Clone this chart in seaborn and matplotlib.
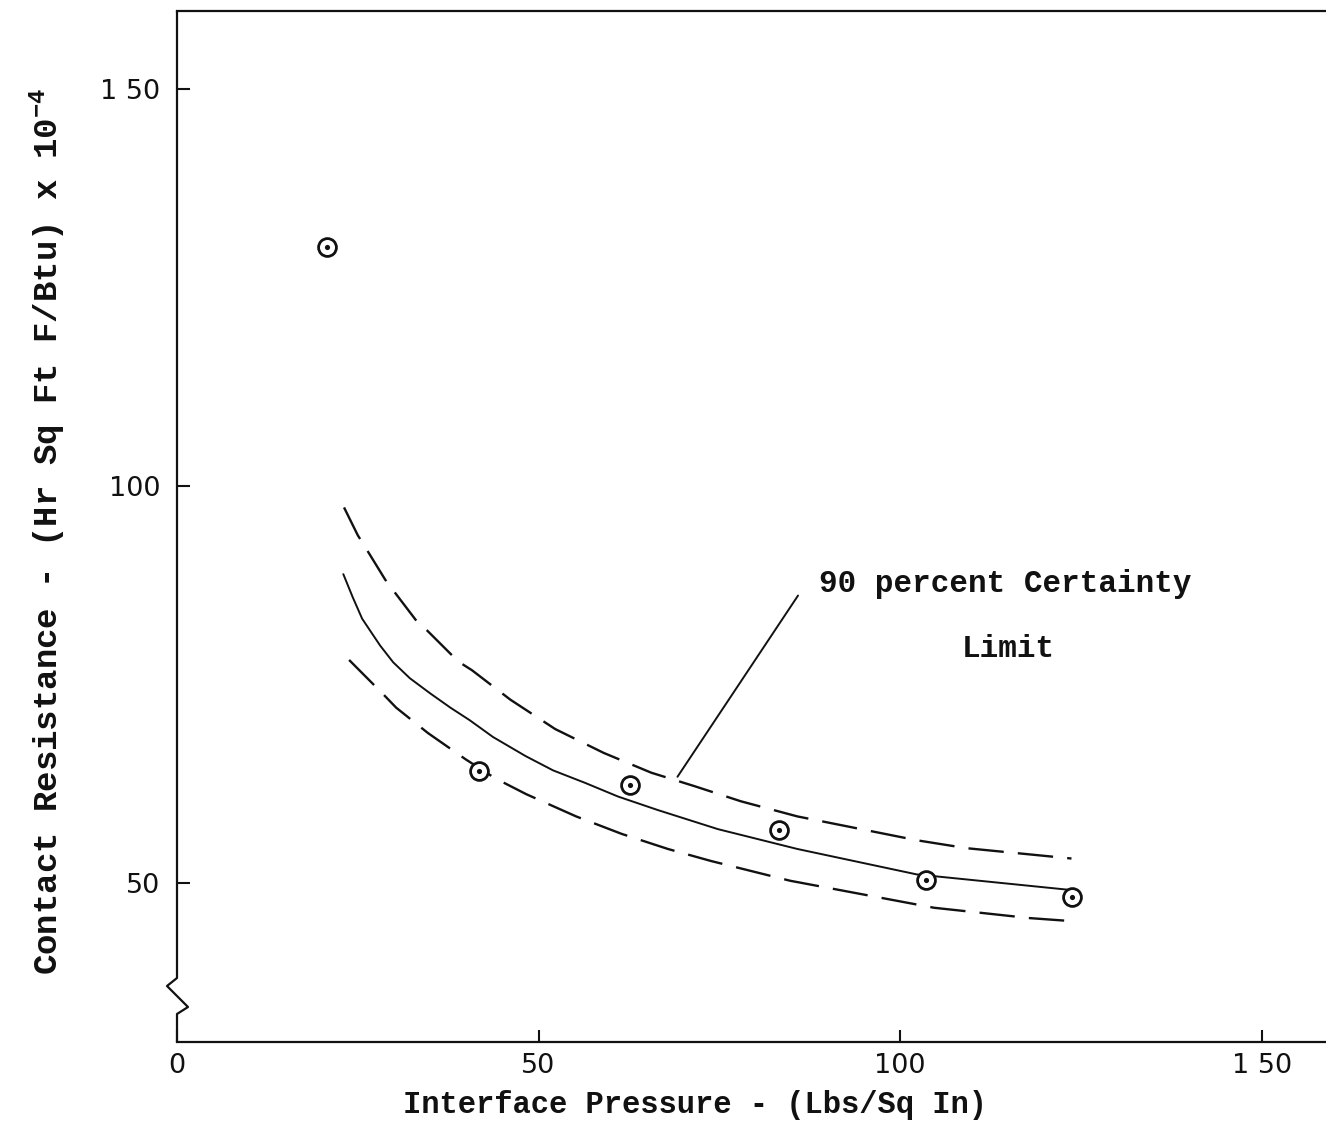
import matplotlib
matplotlib.use("Agg")
import matplotlib.pyplot as plt
import seaborn as sns
import pandas as pd

# ---- data ----
pressure_pts = [20.8, 41.7, 62.7, 83.2, 103.6, 123.8]
resist_pts = [130.1, 64.1, 62.3, 56.7, 50.4, 48.2]

fit_x = [23.0, 24.3, 25.6, 26.7, 28.1, 29.9, 32.2, 35.0, 37.8, 40.5, 43.7, 48.2,
         52.0, 56.5, 61.0, 66.5, 74.8, 85.8, 102.3, 124.0]
fit_y = [88.9, 86.0, 83.3, 81.8, 79.9, 77.8, 75.8, 73.9, 72.1, 70.5, 68.4, 66.0,
         64.2, 62.6, 60.9, 59.2, 56.8, 54.3, 51.1, 49.1]

upper_x = [23.1, 25.0, 26.3, 28.8, 29.7, 33.3, 34.6, 38.9, 40.8, 46.1, 52.3, 59.0,
           65.6, 71.6, 78.0, 85.8, 102.3, 109.2, 123.7]
upper_y = [97.3, 93.8, 91.9, 88.2, 87.1, 82.8, 81.8, 77.9, 76.8, 73.1, 69.4, 66.4,
           63.9, 62.2, 60.3, 58.4, 55.4, 54.4, 53.1]

lower_x = [23.8, 28.5, 30.3, 34.7, 39.9, 44.0, 48.3, 55.2, 61.5, 67.9, 73.8, 84.8,
           104.7, 117.9, 124.0]
lower_y = [78.1, 73.8, 72.1, 68.9, 65.6, 63.2, 61.2, 58.4, 56.2, 54.3, 52.8, 50.3,
           46.9, 45.6, 45.2]

x_ticks = [0, 50, 100, 150]
y_ticks = [50, 100, 150]
x_ticklabels = ["0", "50", "100", "1 50"]
y_ticklabels = ["50", "100", "1 50"]

xlabel = "Interface Pressure - (Lbs/Sq In)"
ylabel = "Contact Resistance - (Hr Sq Ft F/Btu) x 10$^{-4}$"
note1 = "90 percent Certainty"
note2 = "Limit"

# ---- style ----
sns.set_style("ticks")
plt.rcParams["font.family"] = ["Liberation Mono", "DejaVu Sans"]
plt.rcParams["mathtext.fontset"] = "custom"
plt.rcParams["mathtext.rm"] = "Liberation Mono:bold"
plt.rcParams["mathtext.it"] = "Liberation Mono:bold"
plt.rcParams["mathtext.bf"] = "Liberation Mono:bold"

fig = plt.figure(figsize=(13.26, 11.30), dpi=100)
ax = fig.add_axes([177 / 1326, (1130 - 1042) / 1130, 1 - 177 / 1326, (1042 - 11) / 1130])

ink = "#111111"

df_fit = pd.DataFrame({"x": fit_x, "y": fit_y})
df_up = pd.DataFrame({"x": upper_x, "y": upper_y})
df_lo = pd.DataFrame({"x": lower_x, "y": lower_y})
df_pts = pd.DataFrame({"x": pressure_pts, "y": resist_pts})

sns.lineplot(data=df_fit, x="x", y="y", ax=ax, color=ink, lw=1.4, sort=True, estimator=None)
sns.lineplot(data=df_up, x="x", y="y", ax=ax, color=ink, lw=1.7, sort=True, estimator=None,
             linestyle=(0, (15, 6)))
sns.lineplot(data=df_lo, x="x", y="y", ax=ax, color=ink, lw=1.7, sort=True, estimator=None,
             linestyle=(0, (15, 6)))
sns.scatterplot(data=df_pts, x="x", y="y", ax=ax, s=165, facecolor="white",
                edgecolor=ink, linewidth=2.0, zorder=5)
sns.scatterplot(data=df_pts, x="x", y="y", ax=ax, s=14, color=ink, linewidth=0, zorder=6)

ax.set_xlim(0, 158.9)
ax.set_ylim(30.0, 159.8)

ax.set_xticks(x_ticks)
ax.set_xticklabels(x_ticklabels)
ax.set_yticks(y_ticks)
ax.set_yticklabels(y_ticklabels)
ax.tick_params(direction="in", length=9, width=1.5, color=ink, labelsize=19.5,
               labelcolor=ink)
ax.tick_params(axis="y", pad=12)
ax.tick_params(axis="x", pad=8)
for lab in ax.get_xticklabels() + ax.get_yticklabels():
    lab.set_family("DejaVu Sans")

ax.spines["right"].set_visible(False)
ax.spines["left"].set_visible(False)
for s in ("top", "bottom"):
    ax.spines[s].set_linewidth(1.6)
    ax.spines[s].set_color(ink)

# left spine with axis-break zigzag
H = 1042 - 11
W = 1326 - 177
def ay(py):
    return (1042 - py) / H
brk_x = [0, 0, -10 / W, 11 / W, 0, 0]
brk_y = [1, ay(978), ay(986), ay(1007), ay(1014), 0]
ax.plot(brk_x, brk_y, transform=ax.transAxes, color=ink, lw=1.6, clip_on=False)

ax.set_xlabel(xlabel, fontsize=22, fontweight="bold", color=ink)
ax.set_ylabel(ylabel, fontsize=24.5, fontweight="bold", color=ink)
ax.xaxis.set_label_coords((695 - 177) / W, -(1090 - 1042) / H)
ax.yaxis.set_label_coords(-(177 - 68) / W, ay(531))

# annotation
ax.annotate("", xy=(69.0, 63.1), xytext=(86.1, 86.5),
            arrowprops=dict(arrowstyle="-", color=ink, lw=1.4))
ax.text(88.8, 87.7, note1, fontsize=22.3, fontweight="bold", color=ink,
        ha="left", va="center")
ax.text(115.0, 79.5, note2, fontsize=22.3, fontweight="bold", color=ink,
        ha="center", va="center")

fig.savefig("out.png", dpi=100, facecolor="white")
